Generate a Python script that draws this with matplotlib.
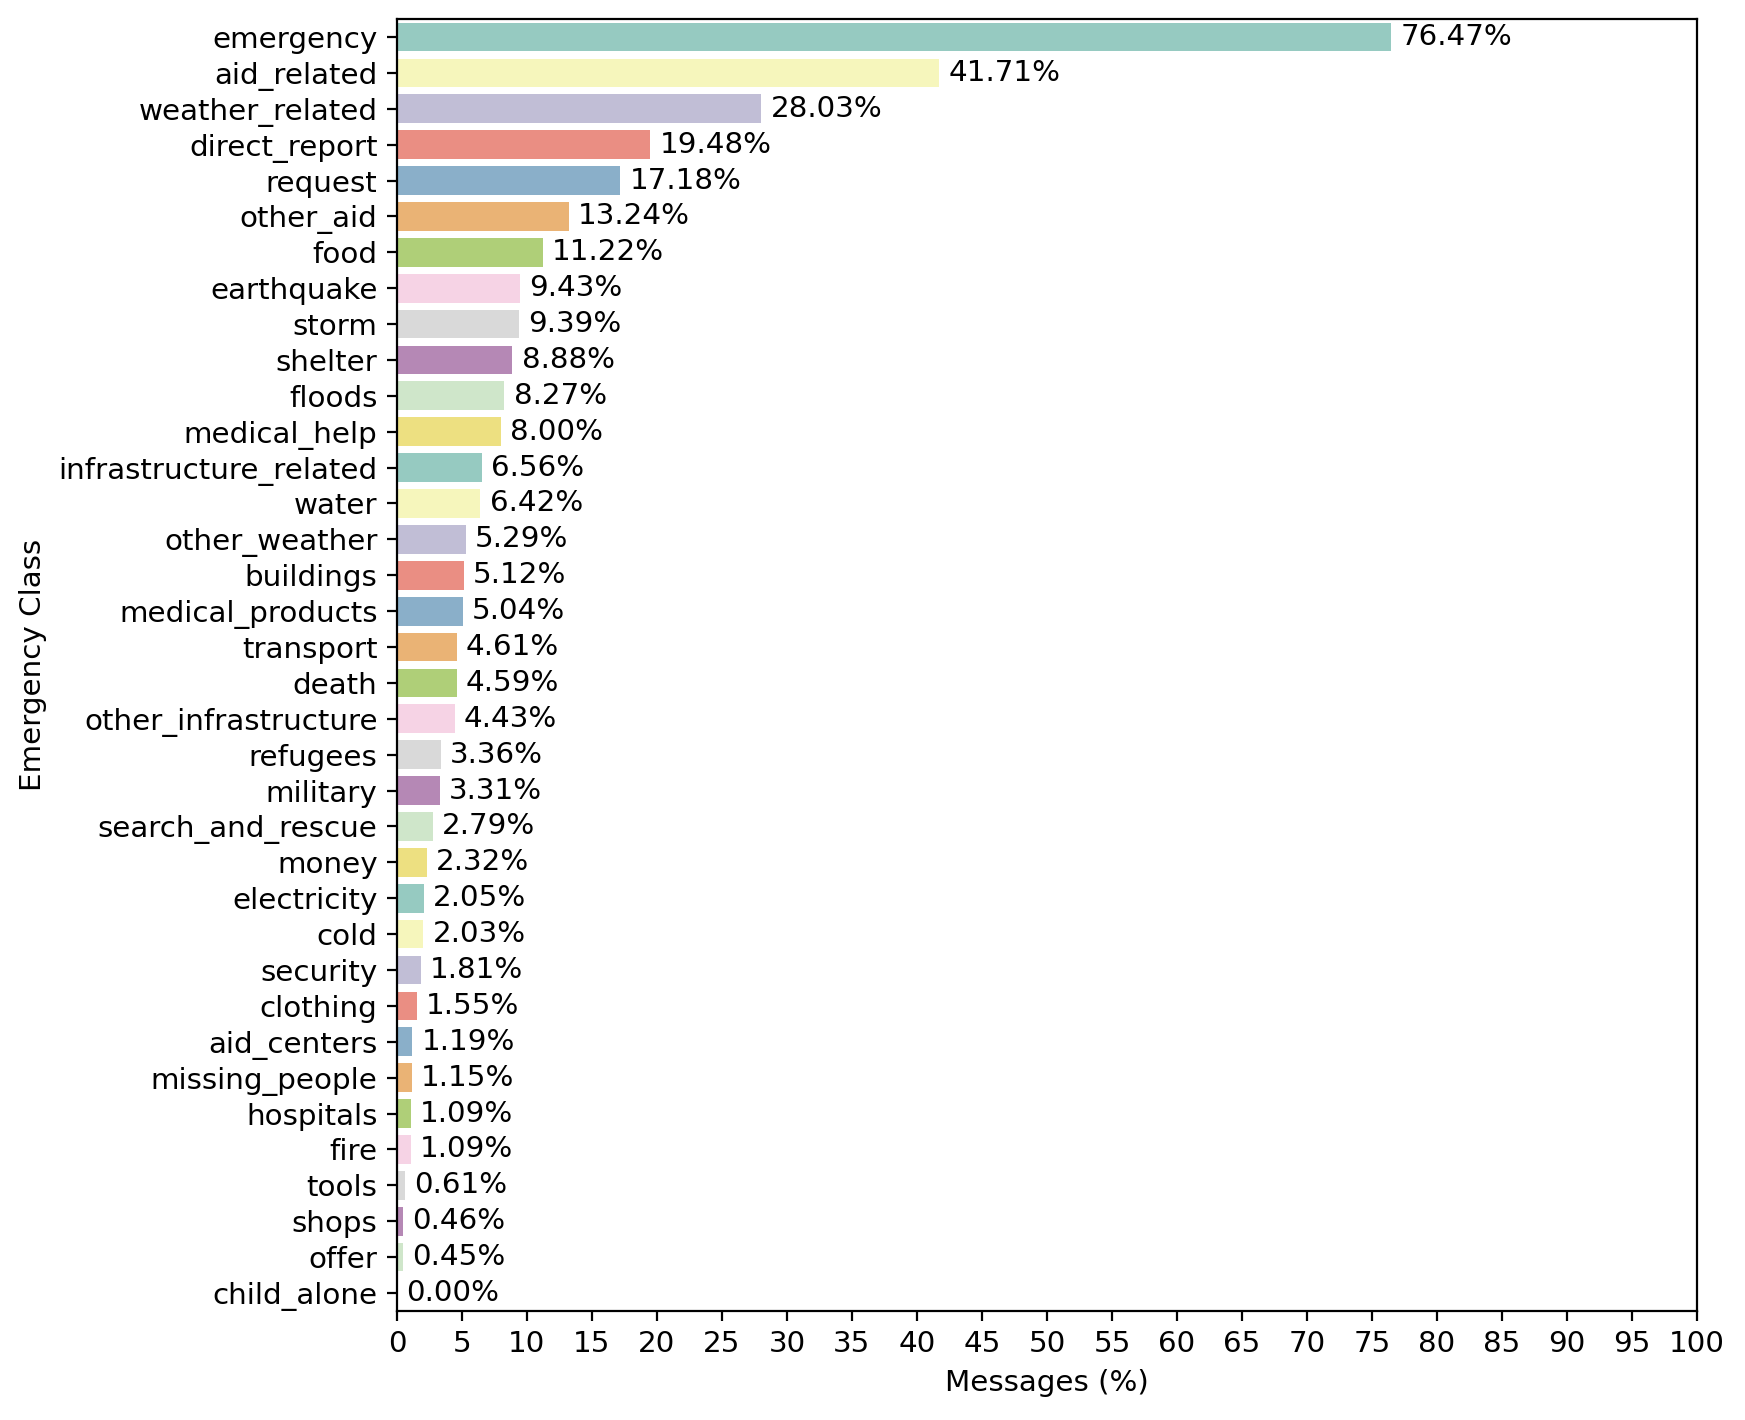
import numpy as np
import matplotlib
matplotlib.use('Agg')
import matplotlib.pyplot as plt
import seaborn as sns

categories = ['emergency', 'aid_related', 'weather_related', 'direct_report', 'request',
              'other_aid', 'food', 'earthquake', 'storm', 'shelter', 'floods',
              'medical_help', 'infrastructure_related', 'water', 'other_weather',
              'buildings', 'medical_products', 'transport', 'death',
              'other_infrastructure', 'refugees', 'military', 'search_and_rescue',
              'money', 'electricity', 'cold', 'security', 'clothing', 'aid_centers',
              'missing_people', 'hospitals', 'fire', 'tools', 'shops', 'offer',
              'child_alone']
percent = [76.47, 41.71, 28.03, 19.48, 17.18, 13.24, 11.22, 9.43, 9.39, 8.88, 8.27,
           8.00, 6.56, 6.42, 5.29, 5.12, 5.04, 4.61, 4.59, 4.43, 3.36, 3.31, 2.79,
           2.32, 2.05, 2.03, 1.81, 1.55, 1.19, 1.15, 1.09, 1.09, 0.61, 0.46, 0.45,
           0.00]
x_ticks = list(range(0, 101, 5))

plt.rcParams['font.size'] = 10.6
base = sns.color_palette('Set3', 12)
colors = [sns.desaturate(base[i % 12], 0.75) for i in range(len(categories))]

fig = plt.figure(figsize=(8.725, 7.1), dpi=200)
ax = fig.add_axes([0.2275, 0.0768, 0.745, 0.9098])
y = np.arange(len(categories))
ax.barh(y, percent, height=0.8, color=colors)
for i, v in enumerate(percent):
    ax.text(v + 0.7, i, '%.2f%%' % v, va='center', ha='left', fontsize=10.6)

ax.set_yticks(y)
ax.set_yticklabels(categories)
ax.set_ylim(len(categories) - 0.5, -0.5)
ax.set_xlim(0, 100)
ax.set_xticks(x_ticks)
ax.set_xlabel('Messages (%)')
ax.set_ylabel('Emergency Class')
fig.savefig('out.png', dpi=200)
